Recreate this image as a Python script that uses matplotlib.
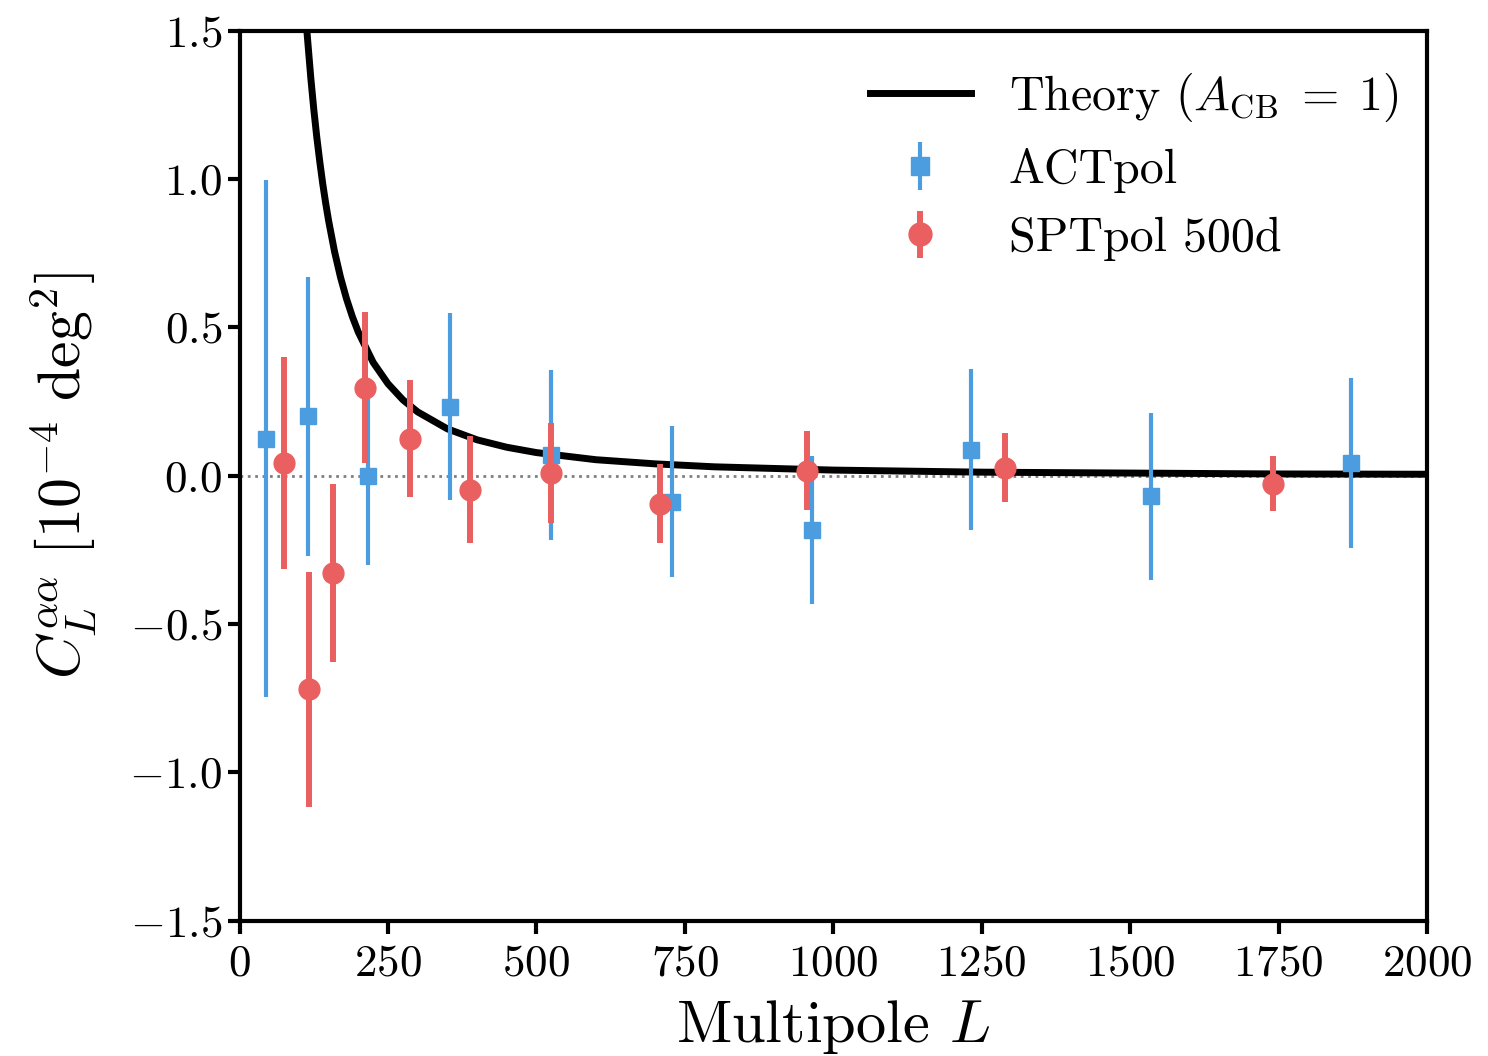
import matplotlib
matplotlib.use("Agg")
import matplotlib.pyplot as plt

plt.rcParams['font.family'] = 'serif'
plt.rcParams['font.serif'] = ['cmr10', 'DejaVu Serif']
plt.rcParams['mathtext.fontset'] = 'cm'
plt.rcParams['axes.formatter.use_mathtext'] = True

# theory curve
theory_L = [110, 114, 120, 125, 130, 135, 140, 145, 150, 160, 170, 180, 190, 200,
            225, 250, 275, 300, 350, 400, 450, 500, 600, 700, 800, 1000, 1250,
            1500, 1750, 2000]
theory_C = [1.593, 1.484, 1.340, 1.235, 1.142, 1.060, 0.985, 0.919, 0.859, 0.755,
            0.669, 0.597, 0.536, 0.484, 0.382, 0.310, 0.256, 0.215, 0.158, 0.121,
            0.096, 0.078, 0.054, 0.040, 0.030, 0.019, 0.012, 0.009, 0.006, 0.005]

# ACTpol bandpowers
act_L = [44, 115, 217, 354, 524, 728, 964, 1232, 1535, 1872]
act_C = [0.125, 0.20, 0.0, 0.233, 0.07, -0.087, -0.182, 0.088, -0.07, 0.044]
act_err = [0.87, 0.47, 0.30, 0.315, 0.285, 0.255, 0.25, 0.27, 0.28, 0.287]

# SPTpol 500d bandpowers
spt_L = [74, 117, 158, 212, 287, 388, 524, 708, 955, 1289, 1740]
spt_C = [0.044, -0.72, -0.327, 0.297, 0.125, -0.047, 0.01, -0.094, 0.017, 0.027, -0.027]
spt_err = [0.357, 0.395, 0.30, 0.255, 0.197, 0.18, 0.168, 0.133, 0.133, 0.117, 0.093]

blue = '#4c9de0'
red = '#ea5f5f'

fig = plt.figure(figsize=(14.88, 10.56), dpi=100)
ax = fig.add_axes([0.161, 0.128, 0.798, 0.843])

ax.axhline(0, color='gray', ls=':', lw=2, zorder=1)
ax.plot(theory_L, theory_C, color='k', lw=5, zorder=2,
        label=r'Theory ($A_{\rm CB} \;=\; 1$)')
ax.errorbar(act_L, act_C, yerr=act_err, fmt='s', color=blue, ms=11.5, elinewidth=3,
            capsize=0, zorder=3, label='ACTpol')
ax.errorbar(spt_L, spt_C, yerr=spt_err, fmt='o', color=red, ms=15, elinewidth=4.3,
            capsize=0, zorder=4, label='SPTpol 500d')

ax.set_xlim(0, 2000)
ax.set_ylim(-1.5, 1.5)
ax.set_xticks([0, 250, 500, 750, 1000, 1250, 1500, 1750, 2000])
ax.set_yticks([-1.5, -1.0, -0.5, 0.0, 0.5, 1.0, 1.5])
ax.tick_params(labelsize=32.5, width=3, length=9, direction='out')
ax.tick_params(axis='x', pad=8)
for s in ax.spines.values():
    s.set_linewidth(3)

ax.set_xlabel(r'Multipole $L$', fontsize=43.5, labelpad=10)
ax.set_ylabel(r'$C_L^{\alpha\alpha}\ [10^{-4}\ \mathrm{deg}^2]$', fontsize=43, labelpad=22)

ax.legend(loc='upper right', bbox_to_anchor=(1.0, 0.987), frameon=False, fontsize=34.5,
          handlelength=2.1, handletextpad=0.8, labelspacing=0.5, borderaxespad=0.2,
          markerscale=1.1)

fig.savefig('out.png', dpi=100)
